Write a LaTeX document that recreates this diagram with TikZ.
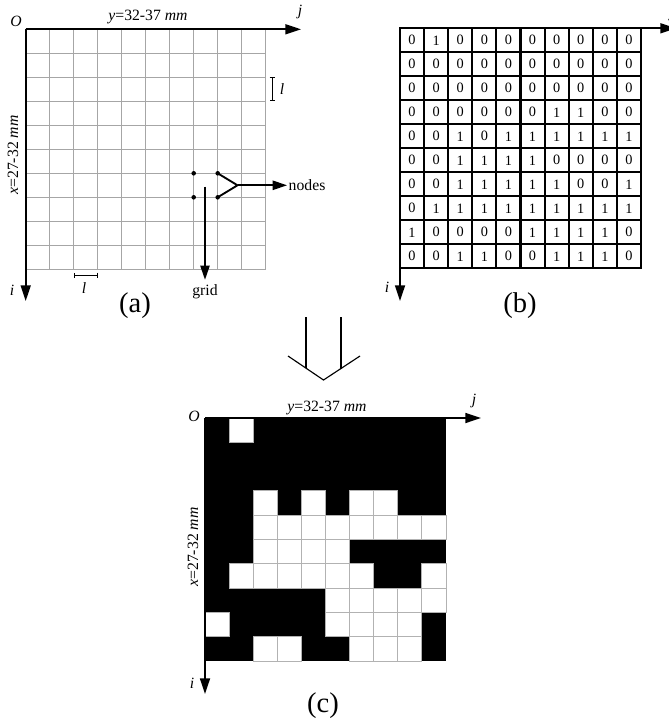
\documentclass[tikz,border=0pt]{standalone}
\usepackage{fontspec}
\setmainfont{Liberation Serif}
\usetikzlibrary{arrows.meta,positioning}

\tikzset{
  axis/.style={line width=1.2pt, -{Triangle[length=11pt,width=7pt]}},
  pointer/.style={line width=1.2pt, -{Triangle[length=10pt,width=6.5pt]}},
  meshline/.style={gray!70, line width=0.6pt},
  dimline/.style={line width=0.6pt, {Bar[width=3.5pt]}-{Bar[width=3.5pt]}},
  dot/.style={circle, fill=black, inner sep=0pt, minimum size=3.2pt},
  bitcell/.style={draw, line width=1.5pt, minimum width=16.87pt, minimum height=16.8pt, inner sep=0pt, font=\fontsize{10}{12}\selectfont},
  pix/.style={fill=white, draw=gray!60, line width=0.6pt},
  caption/.style={font=\fontsize{20}{24}\selectfont}
}

\begin{document}
\begin{tikzpicture}[x=0.7pt, y=-0.7pt, every node/.style={font=\fontsize{11}{13}\selectfont}]
\useasboundingbox (0,0) rectangle (668,721);

% (a) sampling grid
\foreach \k in {0,...,10} {
  \draw[meshline] (25.7+24*\k,29.3) -- (25.7+24*\k,269.3);
  \draw[meshline] (25.7,29.3+24*\k) -- (265.7,29.3+24*\k);
}
\coordinate (Oa) at (25.7,29.3);
\coordinate (ja) at (301,29.3);
\coordinate (ia) at (25.7,301);
\draw[axis] (Oa) -- (ja);
\draw[axis] (Oa) -- (ia);
\node (Olbl-a) at (16,21) {\textit{O}};
\node (ylbl-a) at (148,17) {\textit{y}=32-37 \textit{mm}};
\node (jlbl-a) at (300,12) {\textit{j}};
\node[rotate=90] (xlbl-a) at (13,155) {\textit{x}=27-32 \textit{mm}};
\node (ilbl-a) at (12,290) {\textit{i}};

% cell size l
\coordinate (lv1) at (272,77.3);
\coordinate (lv2) at (272,101.3);
\draw[dimline] (lv1) -- (lv2);
\node (lv) at (282,89) {\textit{l}};
\coordinate (lh1) at (73.7,275);
\coordinate (lh2) at (97.7,275);
\draw[dimline] (lh1) -- (lh2);
\node (lh) at (84,288) {\textit{l}};

% nodes and grid
\node[dot] (n1) at (193.7,173.3) {};
\node[dot] (n2) at (193.7,197.3) {};
\node[dot] (n3) at (217.7,173.3) {};
\node[dot] (n4) at (217.7,197.3) {};
\coordinate (fork) at (237.5,185.3);
\draw[line width=1.3pt] (n3.center) -- (fork) -- (n4.center);
\node[anchor=west, inner sep=1pt] (nodes) at (287,185.3) {nodes};
\draw[pointer] (fork) -- (nodes.west);
\coordinate (gtop) at (205,186.7);
\node (grid) at (205,292) {grid};
\draw[pointer] (gtop) -- (grid.north);

\node[caption] (cap-a) at (135,306) {(a)};

% (b) binary matrix
\foreach \row [count=\r] in {
  {0,1,0,0,0,0,0,0,0,0},
  {0,0,0,0,0,0,0,0,0,0},
  {0,0,0,0,0,0,0,0,0,0},
  {0,0,0,0,0,0,1,1,0,0},
  {0,0,1,0,1,1,1,1,1,1},
  {0,0,1,1,1,1,0,0,0,0},
  {0,0,1,1,1,1,1,0,0,1},
  {0,1,1,1,1,1,1,1,1,1},
  {1,0,0,0,0,1,1,1,1,0},
  {0,0,1,1,0,0,1,1,1,0}} {
  \foreach \v [count=\c] in \row {
    \node[bitcell] (b-\r-\c) at ({400+24.1*(\c-0.5)},{28.3+24*(\r-0.5)}) {\v};
  }
}
\coordinate (Ob) at (400,28.3);
\coordinate (jb) at (676,28.3);
\coordinate (ib) at (400,301);
\draw[axis] (Ob) -- (jb);
\draw[axis] (Ob) -- (ib);
\node (jlbl-b) at (672,14) {\textit{j}};
\node (ilbl-b) at (387,287) {\textit{i}};
\node[caption] (cap-b) at (520,306) {(b)};

% open arrow
\draw[line width=0.8pt] (306,317) -- (306,368.2);
\draw[line width=0.8pt] (341,317) -- (341,368.5);
\draw[line width=0.8pt] (288,356) -- (323.5,380) -- (360,356);

% (c) binary image
\coordinate (Oc) at (205,418);
\fill[black] (Oc) rectangle (446,661);
\foreach \row [count=\r] in {
  {0,1,0,0,0,0,0,0,0,0},
  {0,0,0,0,0,0,0,0,0,0},
  {0,0,0,0,0,0,0,0,0,0},
  {0,0,1,0,1,0,1,1,0,0},
  {0,0,1,1,1,1,1,1,1,1},
  {0,0,1,1,1,1,0,0,0,0},
  {0,1,1,1,1,1,1,0,0,1},
  {0,0,0,0,0,1,1,1,1,1},
  {1,0,0,0,0,1,1,1,1,0},
  {0,0,1,1,0,0,1,1,1,0}} {
  \foreach \v [count=\c] in \row {
    \ifnum\v=1
      \path[pix] ({205+24.1*(\c-1)},{418+24.3*(\r-1)}) rectangle ++(24.1,24.3);
    \fi
  }
}
\coordinate (jc) at (481,418);
\coordinate (ic) at (205,694);
\draw[axis] (Oc) -- (jc);
\draw[axis] (Oc) -- (ic);
\node (Olbl-c) at (194,416) {\textit{O}};
\node (ylbl-c) at (327,408) {\textit{y}=32-37 \textit{mm}};
\node (jlbl-c) at (474,401) {\textit{j}};
\node[rotate=90] (xlbl-c) at (193,547) {\textit{x}=27-32 \textit{mm}};
\node (ilbl-c) at (192,683) {\textit{i}};
\node[caption] (cap-c) at (323,706) {(c)};
\end{tikzpicture}
\end{document}
